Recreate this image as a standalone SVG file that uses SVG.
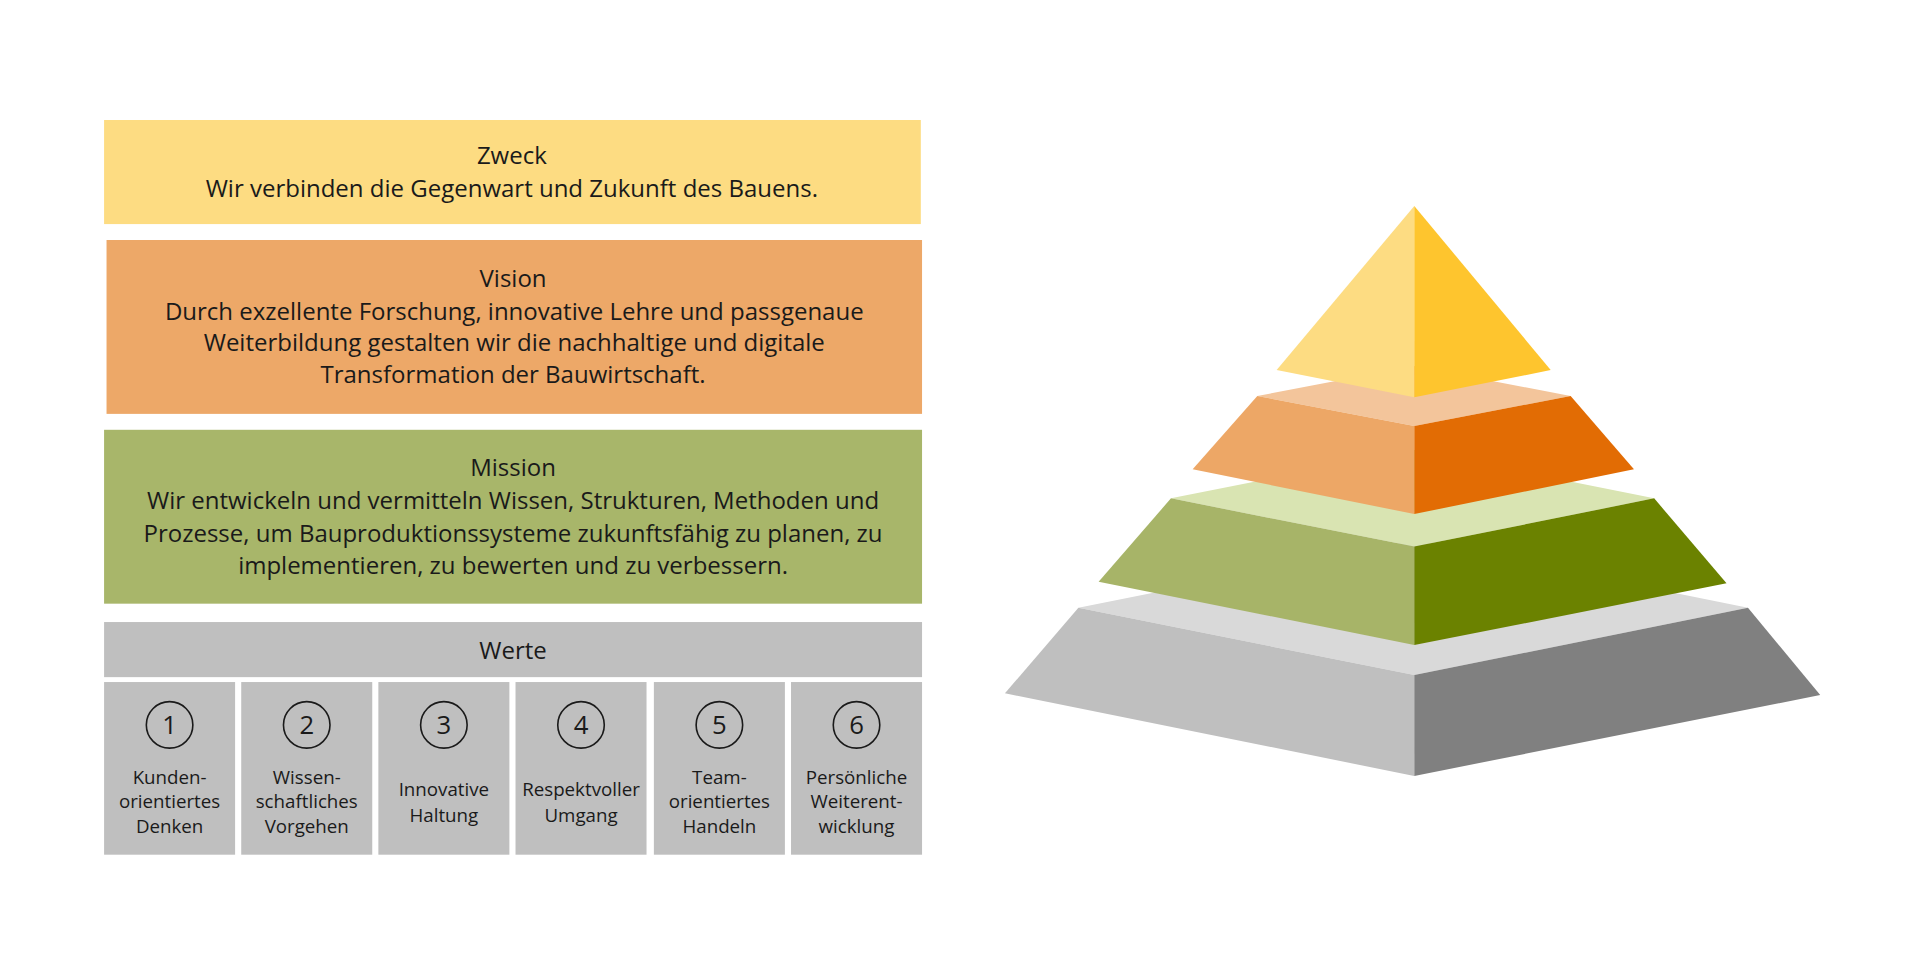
<svg xmlns="http://www.w3.org/2000/svg" width="1920" height="960" viewBox="0 0 1920 960">
<style>
.t{font-family:"Open Sans","Liberation Sans",sans-serif;fill:#1a1a1a;text-anchor:middle}
.b{font-size:19.6px}
.s{font-size:15.3px}
.n{font-size:21px}
.c{fill:none;stroke:#1a1a1a;stroke-width:1.3}
.cell{fill:#bfbfbf}
</style>
<rect width="1920" height="960" fill="#ffffff"/>
<g transform="scale(1.22449)">
<g id="zweck">
<rect x="85" y="98" width="667" height="85" fill="#fddc82"/>
<text class="t b" x="418" y="134">Zweck</text>
<text class="t b" x="418" y="161">Wir verbinden die Gegenwart und Zukunft des Bauens.</text>
</g>
<g id="vision">
<rect x="87" y="196" width="666" height="142" fill="#eda868"/>
<text class="t b" x="419" y="234">Vision</text>
<text class="t b" x="420" y="261">Durch exzellente Forschung, innovative Lehre und passgenaue</text>
<text class="t b" x="420" y="287">Weiterbildung gestalten wir die nachhaltige und digitale</text>
<text class="t b" x="419" y="313">Transformation der Bauwirtschaft.</text>
</g>
<g id="mission">
<rect x="85" y="351" width="668" height="142" fill="#a8b66a"/>
<text class="t b" x="419" y="389">Mission</text>
<text class="t b" x="419" y="416">Wir entwickeln und vermitteln Wissen, Strukturen, Methoden und</text>
<text class="t b" x="419" y="443">Prozesse, um Bauproduktionssysteme zukunftsfähig zu planen, zu</text>
<text class="t b" x="419" y="469">implementieren, zu bewerten und zu verbessern.</text>
</g>
<g id="werte">
<rect x="85" y="508" width="668" height="45" fill="#bfbfbf"/>
<text class="t b" x="419" y="538">Werte</text>
</g>
<g id="wert1">
<rect class="cell" x="85" y="557" width="107" height="141"/>
<circle class="c" cx="138.5" cy="592" r="19"/>
<text class="t n" x="138.5" y="599.5">1</text>
<text class="t s" x="138.5" y="640">Kunden-</text>
<text class="t s" x="138.5" y="660">orientiertes</text>
<text class="t s" x="138.5" y="680">Denken</text>
</g>
<g id="wert2">
<rect class="cell" x="197" y="557" width="107" height="141"/>
<circle class="c" cx="250.5" cy="592" r="19"/>
<text class="t n" x="250.5" y="599.5">2</text>
<text class="t s" x="250.5" y="640">Wissen-</text>
<text class="t s" x="250.5" y="660">schaftliches</text>
<text class="t s" x="250.5" y="680">Vorgehen</text>
</g>
<g id="wert3">
<rect class="cell" x="309" y="557" width="107" height="141"/>
<circle class="c" cx="362.5" cy="592" r="19"/>
<text class="t n" x="362.5" y="599.5">3</text>
<text class="t s" x="362.5" y="650">Innovative</text>
<text class="t s" x="362.5" y="671">Haltung</text>
</g>
<g id="wert4">
<rect class="cell" x="421" y="557" width="107" height="141"/>
<circle class="c" cx="474.5" cy="592" r="19"/>
<text class="t n" x="474.5" y="599.5">4</text>
<text class="t s" x="474.5" y="650">Respektvoller</text>
<text class="t s" x="474.5" y="671">Umgang</text>
</g>
<g id="wert5">
<rect class="cell" x="534" y="557" width="107" height="141"/>
<circle class="c" cx="587.5" cy="592" r="19"/>
<text class="t n" x="587.5" y="599.5">5</text>
<text class="t s" x="587.5" y="640">Team-</text>
<text class="t s" x="587.5" y="660">orientiertes</text>
<text class="t s" x="587.5" y="680">Handeln</text>
</g>
<g id="wert6">
<rect class="cell" x="646" y="557" width="107" height="141"/>
<circle class="c" cx="699.5" cy="592" r="19"/>
<text class="t n" x="699.5" y="599.5">6</text>
<text class="t s" x="699.5" y="640">Persönliche</text>
<text class="t s" x="699.5" y="660">Weiterent-</text>
<text class="t s" x="699.5" y="680">wicklung</text>
</g>
<g id="pyramide">
<g id="stufe-grau">
<polygon points="880.7,496.3 1155,441.3 1427.5,496.3 1155,551.3" fill="#d9d9d9"/>
<polygon points="880.7,496.3 1155,551.3 1155,633.7 820.7,566.2" fill="#bfbfbf"/>
<polygon points="1155,551.3 1427.5,496.3 1486.5,567.6 1155,633.7" fill="#808080"/>
</g>
<g id="stufe-gruen">
<polygon points="956.3,407 1155,367.6 1350.9,407 1155,446.4" fill="#d9e4b2"/>
<polygon points="956.3,407 1155,446.4 1155,526.8 897.2,475" fill="#a7b468"/>
<polygon points="1155,446.4 1350.9,407 1410,476.4 1155,526.8" fill="#6b8200"/>
</g>
<g id="stufe-orange">
<polygon points="1026.8,323.4 1155,299 1282.7,323.4 1155,347.9" fill="#f3c59b"/>
<polygon points="1026.8,323.4 1155,347.9 1155,419.8 974,383.3" fill="#eda766"/>
<polygon points="1155,347.9 1282.7,323.4 1334.4,383.3 1155,419.8" fill="#e26c04"/>
</g>
<g id="stufe-gelb">
<polygon points="1155,168.2 1042.6,302.2 1155,324.5" fill="#fddc82"/>
<polygon points="1155,168.2 1155,324.5 1266.4,302.2" fill="#fec52e"/>
</g>
</g>
</g>
</svg>
